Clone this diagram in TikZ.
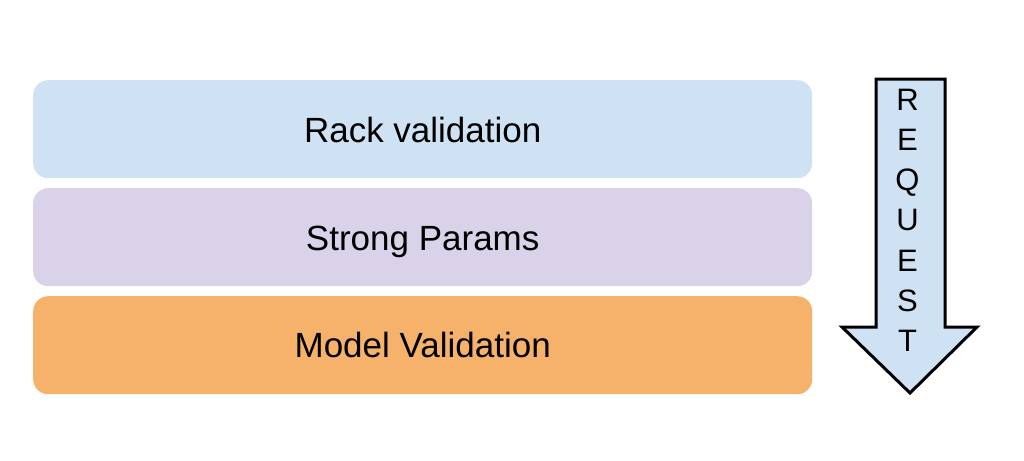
\documentclass[tikz,border=0pt]{standalone}
\usepackage{fontspec}
\setmainfont{Liberation Sans}
\definecolor{boxblue}{HTML}{CFE2F3}
\definecolor{boxpurple}{HTML}{D9D2E9}
\definecolor{boxorange}{HTML}{F6B26B}
\begin{document}
\begin{tikzpicture}[x=1pt,y=-1pt,
  layer/.style={rounded corners=15pt, draw=none, minimum width=779pt, minimum height=98pt, inner sep=0pt, anchor=north west},
  layertext/.style={font=\fontsize{35}{40}\selectfont, text=black, anchor=base, inner sep=0pt},
  reqletter/.style={font=\fontsize{31}{38}\selectfont, inner sep=0pt, anchor=base}]
\useasboundingbox (0,0) rectangle (1024,460);
\node[layer, fill=boxblue] (rack) at (33,80) {};
\node[layer, fill=boxpurple] (strong) at (33,188) {};
\node[layer, fill=boxorange] (model) at (33,296) {};
\node[layertext] (racktext) at ([yshift=-62pt]rack.north) {Rack validation};
\node[layertext] (strongtext) at ([yshift=-62pt]strong.north) {Strong Params};
\node[layertext] (modeltext) at ([yshift=-61.5pt]model.north) {Model Validation};
\draw[line width=3pt, fill=boxblue, line join=miter]
  (876,79) -- (945,79) -- (945,327) -- (977,327) -- (910,393) -- (842,327) -- (876,327) -- cycle;
\node[reqletter] (l1) at (907.5,110) {R};
\node[reqletter] (l2) at (907.5,150) {E};
\node[reqletter] (l3) at (907.5,190) {Q};
\node[reqletter] (l4) at (907.5,230.5) {U};
\node[reqletter] (l5) at (907.5,271) {E};
\node[reqletter] (l6) at (907.5,311) {S};
\node[reqletter] (l7) at (907.5,351) {T};
\end{tikzpicture}
\end{document}
